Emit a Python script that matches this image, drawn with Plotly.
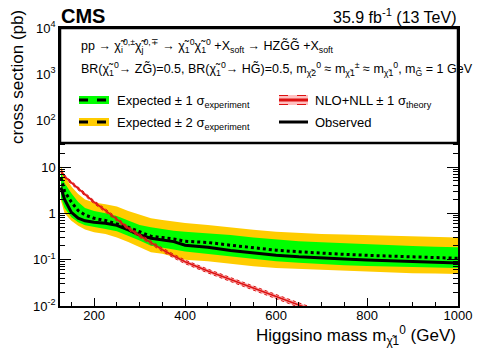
import plotly.graph_objects as go

# higgsino mass points (GeV)
mass = [127, 135, 150, 165, 180, 200, 225, 250, 275, 300, 325, 350, 375, 400,
        450, 500, 550, 600, 650, 700, 750, 800, 850, 900, 950, 1000]

observed = [3.6, 2.0, 1.05, 0.79, 0.69, 0.64, 0.61, 0.55, 0.44, 0.34, 0.29, 0.27, 0.245, 0.205,
            0.185, 0.158, 0.14, 0.125, 0.115, 0.107, 0.103, 0.098, 0.095, 0.092, 0.087, 0.085]
expected = [5.9, 3.0, 1.75, 1.15, 0.92, 0.78, 0.70, 0.60, 0.50, 0.40, 0.32, 0.30, 0.28, 0.25,
            0.235, 0.205, 0.18, 0.16, 0.148, 0.137, 0.13, 0.124, 0.12, 0.115, 0.11, 0.107]
exp_up1 = [8.3, 4.5, 2.7, 1.75, 1.3, 1.12, 1.0, 0.88, 0.70, 0.56, 0.50, 0.45, 0.42, 0.40,
           0.37, 0.34, 0.30, 0.27, 0.25, 0.237, 0.225, 0.215, 0.208, 0.198, 0.19, 0.185]
exp_dn1 = [2.2, 1.3, 0.82, 0.64, 0.55, 0.50, 0.46, 0.41, 0.33, 0.26, 0.20, 0.185, 0.165, 0.15,
           0.132, 0.117, 0.105, 0.093, 0.086, 0.080, 0.076, 0.073, 0.071, 0.069, 0.067, 0.066]
exp_up2 = [10.5, 6.5, 3.8, 2.6, 2.0, 1.72, 1.58, 1.4, 1.12, 0.95, 0.78, 0.72, 0.66, 0.62,
           0.56, 0.49, 0.44, 0.40, 0.375, 0.36, 0.35, 0.34, 0.33, 0.32, 0.31, 0.30]
exp_dn2 = [1.9, 1.0, 0.69, 0.54, 0.45, 0.39, 0.36, 0.30, 0.24, 0.19, 0.145, 0.135, 0.118, 0.10,
           0.092, 0.08, 0.072, 0.066, 0.063, 0.060, 0.057, 0.054, 0.052, 0.051, 0.05, 0.049]

# NLO+NLL theory cross section
th_mass = [127, 135, 150, 165, 180, 200, 225, 250, 275, 300, 325, 350, 375, 400,
           450, 500, 550, 600, 650, 700]
theory = [8.3, 6.3, 4.6, 3.4, 2.6, 1.75, 1.15, 0.73, 0.48, 0.33, 0.23, 0.165, 0.12, 0.09,
          0.057, 0.037, 0.024, 0.016, 0.0105, 0.0070]
theory_up = [8.9, 6.75, 4.93, 3.65, 2.79, 1.88, 1.24, 0.79, 0.52, 0.357, 0.25, 0.179, 0.131, 0.098,
             0.0625, 0.0407, 0.0265, 0.0177, 0.0117, 0.0078]
theory_dn = [7.7, 5.85, 4.27, 3.15, 2.41, 1.62, 1.06, 0.67, 0.44, 0.303, 0.21, 0.151, 0.109, 0.082,
             0.0518, 0.0335, 0.0216, 0.0144, 0.0094, 0.0063]

y_tickvals = [0.01, 0.1, 1, 10, 100, 1000, 10000]
y_ticktext = ["10<sup>-2</sup>", "10<sup>-1</sup>", "1", "10",
              "10<sup>2</sup>", "10<sup>3</sup>", "10<sup>4</sup>"]
y_minor = [k * 10.0 ** e for e in range(-2, 4) for k in range(2, 10)]

GREEN = "#00ff00"
ORANGE = "#ffcc00"
RED = "#dd1111"
FONT = "Liberation Sans"

fig = go.Figure()

# +-2 sigma band
fig.add_trace(go.Scatter(x=mass, y=exp_dn2, mode="lines", line=dict(width=0), showlegend=False))
fig.add_trace(go.Scatter(x=mass, y=exp_up2, mode="lines", line=dict(width=0), fill="tonexty",
                         fillcolor=ORANGE, showlegend=False))
# +-1 sigma band
fig.add_trace(go.Scatter(x=mass, y=exp_dn1, mode="lines", line=dict(width=0), showlegend=False))
fig.add_trace(go.Scatter(x=mass, y=exp_up1, mode="lines", line=dict(width=0), fill="tonexty",
                         fillcolor=GREEN, showlegend=False))

fig.add_trace(go.Scatter(x=mass, y=expected, mode="lines",
                         line=dict(color="black", width=3, dash="dot"), showlegend=False))
fig.add_trace(go.Scatter(x=mass, y=observed, mode="lines",
                         line=dict(color="black", width=3), showlegend=False))

# theory band
fig.add_trace(go.Scatter(x=th_mass, y=theory_dn, mode="lines",
                         line=dict(color=RED, width=1, dash="dot"), showlegend=False))
fig.add_trace(go.Scatter(x=th_mass, y=theory_up, mode="lines",
                         line=dict(color=RED, width=1, dash="dot"), fill="tonexty",
                         fillcolor="rgba(240,60,60,0.4)", showlegend=False))
fig.add_trace(go.Scatter(x=th_mass, y=theory, mode="lines",
                         line=dict(color=RED, width=1.5), showlegend=False))


# the page body adds an 8px offset, positions below are in window pixels
def px(x):
    return (x - 60) / 398


def py(y):
    return (306 - y) / 278


shapes = [
    # legend box
    dict(type="rect", xref="paper", yref="paper", x0=0, x1=1, y0=py(143), y1=1,
         fillcolor="white", line=dict(color="black", width=2.5), layer="above"),
    # expected +-1
    dict(type="rect", xref="paper", yref="paper", x0=px(79), x1=px(109), y0=py(104), y1=py(96),
         fillcolor=GREEN, line=dict(width=0), layer="above"),
    dict(type="line", xref="paper", yref="paper", x0=px(79), x1=px(109), y0=py(100), y1=py(100),
         line=dict(color="black", width=3, dash="dash"), layer="above"),
    # expected +-2
    dict(type="rect", xref="paper", yref="paper", x0=px(79), x1=px(109), y0=py(126), y1=py(118),
         fillcolor=ORANGE, line=dict(width=0), layer="above"),
    dict(type="line", xref="paper", yref="paper", x0=px(79), x1=px(109), y0=py(122), y1=py(122),
         line=dict(color="black", width=3, dash="dash"), layer="above"),
    # theory
    dict(type="rect", xref="paper", yref="paper", x0=px(279), x1=px(308), y0=py(105), y1=py(95),
         fillcolor="rgba(255,150,150,0.6)", line=dict(width=0), layer="above"),
    dict(type="line", xref="paper", yref="paper", x0=px(279), x1=px(308), y0=py(95.5), y1=py(95.5),
         line=dict(color=RED, width=1, dash="dash"), layer="above"),
    dict(type="line", xref="paper", yref="paper", x0=px(279), x1=px(308), y0=py(104.5), y1=py(104.5),
         line=dict(color=RED, width=1, dash="dash"), layer="above"),
    dict(type="line", xref="paper", yref="paper", x0=px(279), x1=px(308), y0=py(100), y1=py(100),
         line=dict(color=RED, width=3), layer="above"),
    # observed
    dict(type="line", xref="paper", yref="paper", x0=px(279), x1=px(308), y0=py(122), y1=py(122),
         line=dict(color="black", width=3), layer="above"),
]

chi = "χ̃"
annotations = [
    dict(text="<b>CMS</b>", x=px(59), y=py(15.5), xanchor="left", yanchor="middle",
         font=dict(size=20)),
    dict(text="35.9 fb<sup>-1</sup> (13 TeV)", x=px(459), y=py(16), xanchor="right",
         yanchor="middle", font=dict(size=16)),
    dict(text="pp → " + chi + "<sub>i</sub><sup>0,±</sup>" + chi + "<sub>j</sub><sup>0,∓</sup> → "
         + chi + "<sub>1</sub><sup>0</sup>" + chi + "<sub>1</sub><sup>0</sup> +X<sub>soft</sub> → HZG̃G̃ +X<sub>soft</sub>",
         x=px(79), y=py(46), xanchor="left", yanchor="middle", font=dict(size=12.5)),
    dict(text="BR(" + chi + "<sub>1</sub><sup>0</sup>→ ZG̃)=0.5, BR(" + chi + "<sub>1</sub><sup>0</sup>→ HG̃)=0.5, "
         "m<sub>" + chi + "2</sub><sup>0</sup> ≈ m<sub>" + chi + "1</sub><sup>±</sup> ≈ m<sub>"
         + chi + "1</sub><sup>0</sup>, m<sub>G̃</sub> = 1 GeV",
         x=px(79), y=py(69), xanchor="left", yanchor="middle", font=dict(size=12.5)),
    dict(text="Expected ± 1 σ<sub>experiment</sub>", x=px(115), y=py(101), xanchor="left",
         yanchor="middle", font=dict(size=13)),
    dict(text="Expected ± 2 σ<sub>experiment</sub>", x=px(115), y=py(123), xanchor="left",
         yanchor="middle", font=dict(size=13)),
    dict(text="NLO+NLL ± 1 σ<sub>theory</sub>", x=px(313), y=py(101), xanchor="left",
         yanchor="middle", font=dict(size=13)),
    dict(text="Observed", x=px(313), y=py(122), xanchor="left", yanchor="middle",
         font=dict(size=13)),
    dict(text="cross section (pb)", x=px(17), y=py(77), textangle=-90, xanchor="center",
         yanchor="middle", font=dict(size=17)),
    dict(text="Higgsino mass m<sub>" + chi + "1</sub><sup>0</sup> (GeV)", x=1, y=py(321),
         xanchor="right", yanchor="top", font=dict(size=17)),
]
for a in annotations:
    a.update(xref="paper", yref="paper", showarrow=False)

fig.update_layout(
    width=490, height=350,
    margin=dict(l=52, r=40, t=20, b=52),
    paper_bgcolor="white", plot_bgcolor="white",
    font=dict(family=FONT, color="black"),
    shapes=shapes, annotations=annotations,
    showlegend=False,
)
fig.update_xaxes(range=[125, 1000], tick0=0, dtick=200, ticks="inside", ticklen=8,
                 tickcolor="black", showline=True, linecolor="black", linewidth=1.5,
                 mirror="ticks", showgrid=False, zeroline=False, tickfont=dict(size=13),
                 ticklabelstandoff=-3,
                 minor=dict(ticks="inside", ticklen=4, dtick=50, tickcolor="black", showgrid=False))
fig.update_yaxes(type="log", range=[-2, 4], tickvals=y_tickvals, ticktext=y_ticktext,
                 ticks="inside", ticklen=11, tickcolor="black", showline=True, linecolor="black",
                 linewidth=1.5, mirror="ticks", showgrid=False, zeroline=False,
                 tickfont=dict(size=13),
                 minor=dict(ticks="inside", ticklen=5, tickvals=y_minor, tickcolor="black",
                            showgrid=False))

fig.write_html("out.html")
